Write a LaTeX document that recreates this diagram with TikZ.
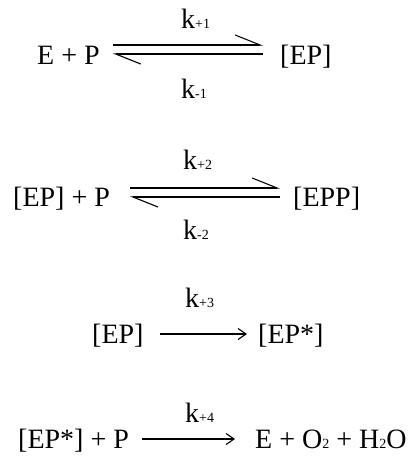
\documentclass[tikz,border=0pt]{standalone}
\usepackage{fontspec}
\setmainfont{Liberation Serif}
\usetikzlibrary{arrows.meta,positioning}
\newcommand{\idx}[1]{{\fontsize{14pt}{14pt}\selectfont #1}}
\begin{document}
\begin{tikzpicture}[x=1pt,y=-1pt]
  \tikzstyle{chem}=[inner sep=0pt,anchor=base west,font=\fontsize{28pt}{30pt}\selectfont]
  \tikzstyle{fwd}=[line width=1.1pt,-{Straight Barb[harpoon,length=25pt,width=20pt]}]
  \tikzstyle{rev}=[line width=1.1pt,{Straight Barb[harpoon,length=25pt,width=20pt]}-]
  \tikzstyle{go}=[line width=1.1pt,-{Straight Barb[length=8pt,width=11pt]}]
  \useasboundingbox (0,0) rectangle (420,456);
  % E + P <=> [EP]
  \node[chem] (r1) at (37,64) {E + P};
  \node[chem] (p1) at (280,64) {[EP]};
  \node[chem] (kf1) at (181,28) {k\idx{+1}};
  \node[chem] (kb1) at (181,98) {k\idx{-1}};
  \draw[fwd] ([xshift=13pt,yshift=19pt]r1.base east) -- ([xshift=-17pt,yshift=19pt]p1.base west);
  \draw[rev] ([xshift=13pt,yshift=10pt]r1.base east) -- ([xshift=-17pt,yshift=10pt]p1.base west);
  % [EP] + P <=> [EPP]
  \node[chem] (r2) at (13,206) {[EP] + P};
  \node[chem] (p2) at (293,206) {[EPP]};
  \node[chem] (kf2) at (183,169) {k\idx{+2}};
  \node[chem] (kb2) at (183,239) {k\idx{-2}};
  \draw[fwd] ([xshift=20pt,yshift=18pt]r2.base east) -- ([xshift=-13pt,yshift=18pt]p2.base west);
  \draw[rev] ([xshift=20pt,yshift=9pt]r2.base east) -- ([xshift=-13pt,yshift=9pt]p2.base west);
  % [EP] -> [EP*]
  \node[chem] (r3) at (92,343) {[EP]};
  \node[chem] (p3) at (258,343) {[EP*]};
  \node[chem] (kf3) at (185,307) {k\idx{+3}};
  \draw[go] ([xshift=16pt,yshift=9pt]r3.base east) -- ([xshift=-11pt,yshift=9pt]p3.base west);
  % [EP*] + P -> products
  \node[chem] (r4) at (18,448) {[EP*] + P};
  \node[chem] (p4) at (255,448) {E + O\idx{2} + H\idx{2}O};
  \node[chem] (kf4) at (185,422) {k\idx{+4}};
  \draw[go] ([xshift=13pt,yshift=9pt]r4.base east) -- ([xshift=-20pt,yshift=9pt]p4.base west);
\end{tikzpicture}
\end{document}
